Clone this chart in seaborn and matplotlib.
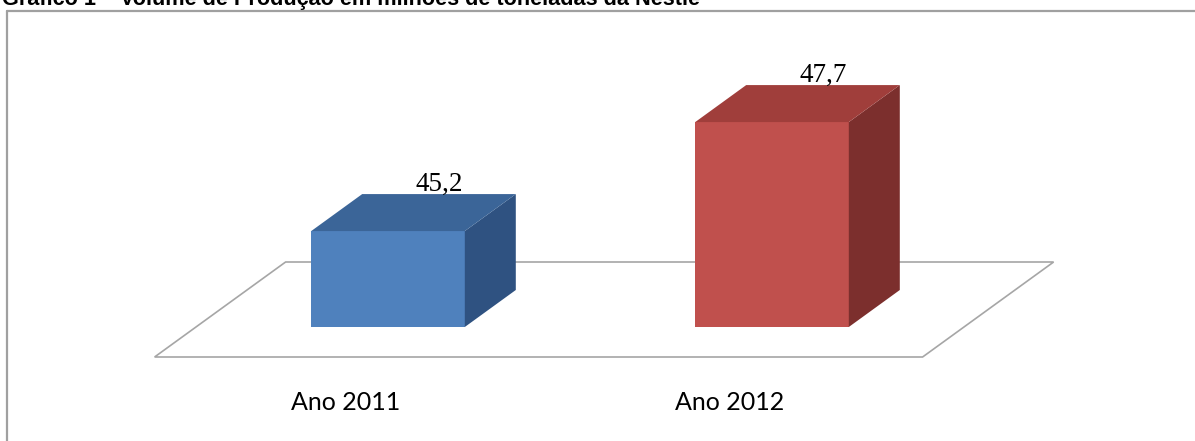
import matplotlib
matplotlib.use("Agg")
import matplotlib.pyplot as plt
import matplotlib.transforms as mtransforms
from matplotlib.patches import Polygon
from matplotlib.lines import Line2D
import seaborn as sns
import pandas as pd
import numpy as np

# ---- data ----
categories = ["Ano 2011", "Ano 2012"]
values = [45.2, 47.7]
value_labels = ["45,2", "47,7"]
title = "Gráfico 1 – Volume de Produção em milhões de toneladas da Nestlé"

front_colors = ["#4F81BD", "#C0504D"]
top_colors = ["#3B6598", "#A03E3B"]
side_colors = ["#2F5281", "#7C2F2D"]

sns.set_theme(style="white")
plt.rcParams["font.family"] = ["Lato", "DejaVu Sans"]

W, H = 1195, 441
fig = plt.figure(figsize=(W / 100, H / 100), dpi=100)
fig.patch.set_facecolor("white")

# axes: front plane of the 3D chart (pixel layout)
ax_left, ax_right = 196, 964
ax_bottom_px = 327          # from top
ax_top_px = 11
ax = fig.add_axes([ax_left / W, (H - ax_bottom_px) / H,
                   (ax_right - ax_left) / W, (ax_bottom_px - ax_top_px) / H])
ax.patch.set_visible(False)

df = pd.DataFrame({"cat": categories, "val": values})
sns.barplot(data=df, x="cat", y="val", hue="cat", palette=front_colors,
            width=0.40, legend=False, ax=ax, saturation=1, zorder=2)
bars = list(ax.patches)
ymin = 43.0
px_per_unit = 43.6
ax.set_xlim(-0.5, 1.5)
ax.set_ylim(ymin, ymin + (ax_bottom_px - ax_top_px) / px_per_unit)
ax.set_axis_off()

# 3D depth offset (pixels)
dx, dy = 51.0, 37.0

# floor parallelogram (in display coords, derived from axes front plane)
tD = ax.transData
fl = tD.transform((-0.5, ymin))
fr = tD.transform((1.5, ymin))
front_shift = np.array([-41.4, -30.0])
back_shift = np.array([89.6, 65.0])
floor = Polygon([fl + front_shift, fr + front_shift, fr + back_shift, fl + back_shift],
                closed=True, facecolor="white", edgecolor="#A6A6A6", linewidth=1.2,
                transform=mtransforms.IdentityTransform(), clip_on=False, zorder=0.5)
ax.add_patch(floor)

# 3D faces of bars
for i, p in enumerate(bars):
    bb = p.get_bbox()
    x0, x1 = bb.x0, bb.x1
    y0 = max(bb.y0, ymin)
    y1 = bb.y1
    p.set_edgecolor("none")
    bl = tD.transform((x0, y0)); br = tD.transform((x1, y0))
    tl = tD.transform((x0, y1)); tr = tD.transform((x1, y1))
    off = np.array([dx, dy])
    side = Polygon([br, tr, tr + off, br + off], closed=True, facecolor=side_colors[i],
                   edgecolor="none", transform=mtransforms.IdentityTransform(),
                   clip_on=False, zorder=3)
    top = Polygon([tl, tr, tr + off, tl + off], closed=True, facecolor=top_colors[i],
                  edgecolor="none", transform=mtransforms.IdentityTransform(),
                  clip_on=False, zorder=3)
    ax.add_patch(side)
    ax.add_patch(top)
    # value label above back-top edge
    cx = (x0 + x1) / 2
    lab_tr = mtransforms.offset_copy(tD, fig=fig, x=dx, y=dy + 3, units="dots")
    ax.text(cx, y1, value_labels[i], transform=lab_tr, ha="center", va="baseline",
            fontsize=19.5, family=["Liberation Serif", "DejaVu Serif"], color="black",
            clip_on=False, zorder=4)
    # category label at floor front
    cat_tr = mtransforms.offset_copy(tD, fig=fig, x=-42, y=-83, units="dots")
    ax.text(cx, ymin, categories[i], transform=cat_tr, ha="center", va="baseline",
            fontsize=18, color="black", clip_on=False)

# chart area border (top and left visible)
bx, by = 7 / W, 1 - 11 / H
fig.add_artist(Line2D([bx, 1.01], [by, by], color="#A0A0A0", linewidth=1.6,
                      transform=fig.transFigure))
fig.add_artist(Line2D([bx, bx], [by, -0.01], color="#A0A0A0", linewidth=1.6,
                      transform=fig.transFigure))

# title (its top is cut off by the page edge, as in the source)
fig.text(2 / W, 1 - 5 / H, title, ha="left", va="baseline", fontsize=15.6,
         fontweight="bold", family=["Liberation Sans", "DejaVu Sans"], color="black")

fig.savefig("out.png", dpi=100)
